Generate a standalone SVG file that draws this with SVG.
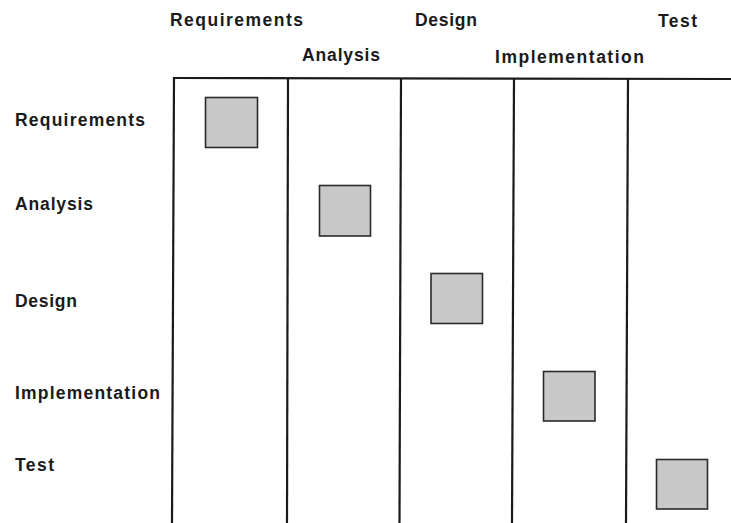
<svg xmlns="http://www.w3.org/2000/svg" width="731" height="523" viewBox="0 0 731 523">
<style>
.lbl{font-family:"Liberation Sans",Arial,sans-serif;font-weight:bold;font-size:17.5px;fill:#1a1a1a}
.grid{stroke:#1a1a1a;stroke-width:2.2;fill:none}
.box{fill:#c8c8c8;stroke:#2a2a2a;stroke-width:1.6}
</style>
<rect width="731" height="523" fill="#ffffff"/>
<g id="col-headers">
<text class="lbl" x="170" y="26" textLength="133">Requirements</text>
<text class="lbl" x="302" y="61" textLength="78">Analysis</text>
<text class="lbl" x="415" y="26" textLength="62">Design</text>
<text class="lbl" x="495" y="62.5" textLength="149">Implementation</text>
<text class="lbl" x="658" y="26.5" textLength="39">Test</text>
</g>
<g id="row-headers">
<text class="lbl" x="15" y="126" textLength="130">Requirements</text>
<text class="lbl" x="15" y="209.5" textLength="78">Analysis</text>
<text class="lbl" x="15" y="306.5" textLength="62">Design</text>
<text class="lbl" x="15" y="398.5" textLength="145">Implementation</text>
<text class="lbl" x="15" y="471" textLength="39">Test</text>
</g>
<g id="connectors">
<line class="grid" x1="174" y1="78" x2="731" y2="79"/>
<line class="grid" x1="174" y1="77" x2="172" y2="523"/>
<line class="grid" x1="288" y1="78" x2="287" y2="523"/>
<line class="grid" x1="401" y1="78" x2="399.5" y2="523"/>
<line class="grid" x1="514" y1="78" x2="512" y2="523"/>
<line class="grid" x1="628" y1="78" x2="626" y2="523"/>
</g>
<g id="box-requirements"><rect class="box" x="205.5" y="97.5" width="52" height="50"/></g>
<g id="box-analysis"><rect class="box" x="319.5" y="185.5" width="51" height="50.5"/></g>
<g id="box-design"><rect class="box" x="431" y="273.5" width="51.5" height="50"/></g>
<g id="box-implementation"><rect class="box" x="543.5" y="371.5" width="51.5" height="49.5"/></g>
<g id="box-test"><rect class="box" x="656.5" y="459.5" width="51" height="49.5"/></g>
</svg>
